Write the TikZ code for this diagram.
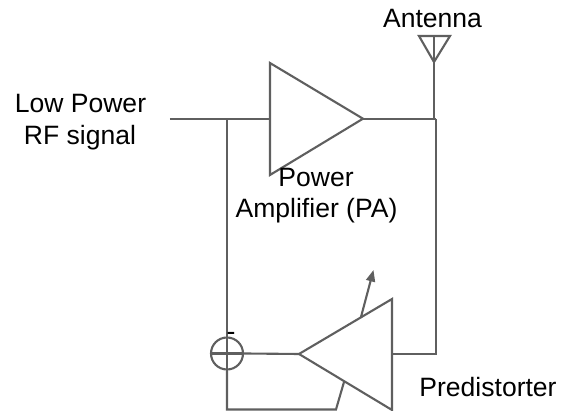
\documentclass[tikz,border=0pt]{standalone}
\usepackage{fontspec}
\setmainfont{Liberation Sans}
\usetikzlibrary{arrows.meta}
\definecolor{wire}{HTML}{5F5F5F}
\begin{document}
\begin{tikzpicture}[scale=0.2]
			\tikzstyle{every node}+=[inner sep=0pt]
			\tikzstyle{wire line}=[draw=wire,line width=1.2pt,line join=miter]
			\tikzstyle{label}=[anchor=base,font=\fontsize{15.1}{17}\selectfont,text=black]
			\useasboundingbox (0,0) rectangle (56.2,-41.1);
			% power amplifier
			\coordinate (pa top) at (27,-6.3);
			\coordinate (pa bottom) at (27,-17.5);
			\coordinate (pa out) at (36.3,-11.87);
			\coordinate (pa in) at (27,-11.87);
			\coordinate (rf in) at (17,-11.87);
			\coordinate (rf tap) at (22.7,-11.87);
			\coordinate (ant tap) at (43.6,-11.87);
			\draw [wire line] (pa top) -- (pa out) -- (pa bottom) -- cycle;
			\draw [wire line] (rf in) -- (pa in);
			\draw [wire line] (pa out) -- (ant tap);
			% antenna
			\coordinate (ant left) at (41.9,-3.6);
			\coordinate (ant right) at (45,-3.6);
			\coordinate (ant tip) at (43.4,-6.2);
			\coordinate (ant mid) at (43.4,-3.6);
			\coordinate (ant foot) at (43.4,-11.87);
			\draw [wire line] (ant left) -- (ant right) -- (ant tip) -- cycle;
			\draw [wire line] (ant mid) -- (ant foot);
			% predistorter
			\coordinate (pd tip) at (29.9,-35.4);
			\coordinate (pd top) at (39.2,-29.9);
			\coordinate (pd bottom) at (39.2,-41);
			\coordinate (pd out) at (39.2,-35.4);
			\coordinate (pd corner) at (43.6,-35.4);
			\coordinate (pd tune) at (36.1,-31.7);
			\coordinate (pd arrow) at (37.35,-27);
			\coordinate (pd low) at (34.4,-38.2);
			\draw [wire line] (pd tip) -- (pd top) -- (pd bottom) -- cycle;
			\draw [wire line] (pd out) -- (pd corner) -- (ant tap);
			\draw [wire line,-{Triangle[length=2.3mm,width=1.8mm]}] (pd tune) -- (pd arrow);
			% summing junction
			\node [circle,wire line,minimum size=3.2*0.2cm] (sum) at (22.7,-35.35) {};
			\coordinate (loop corner) at (22.7,-40.95);
			\coordinate (loop end) at (33.6,-40.95);
			\draw [wire line] (rf tap) -- (sum.south);
			\draw [wire line] (sum.west) -- (sum.east);
			\draw [wire line] (sum.east) -- (pd tip);
			\draw [wire line] (sum.south) -- (loop corner) -- (loop end) -- (pd low);
			% labels
			\node [label] (rf line one) at (8.05,-11.3) {Low Power};
			\node [label] (rf line two) at (8.0,-14.45) {RF signal};
			\node [label] (ant label) at (43.25,-2.8) {Antenna};
			\node [label] (pa line one) at (31.6,-18.7) {Power};
			\node [label] (pa line two) at (31.65,-21.8) {Amplifier (PA)};
			\node [label] (pd label) at (48.8,-39.7) {Predistorter};
			\node [label] (sum sign) at (23.1,-34.1) {-};
			\end{tikzpicture}
\end{document}
